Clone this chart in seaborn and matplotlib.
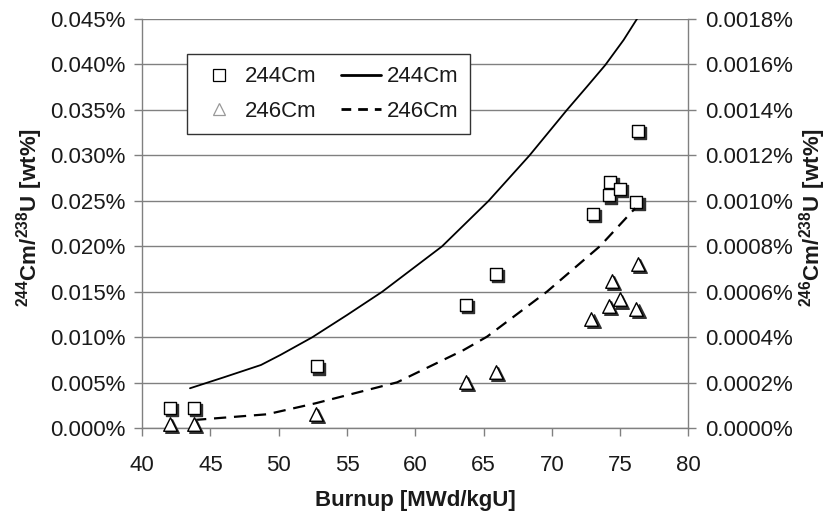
import numpy as np
import pandas as pd
import matplotlib
matplotlib.use("Agg")
import matplotlib.pyplot as plt
import seaborn as sns
from matplotlib.transforms import offset_copy
from matplotlib.lines import Line2D
from matplotlib.ticker import FuncFormatter, MultipleLocator

# ---------------- data ----------------
burnup_meas_244 = [42.0, 43.8, 52.8, 63.7, 65.9, 73.0, 74.2, 74.3, 75.0, 76.2, 76.3]
cm244_meas = [0.00226, 0.0022, 0.0068, 0.0136, 0.0170, 0.0236, 0.0256, 0.0271, 0.0263, 0.0249, 0.0327]

burnup_meas_246 = [42.0, 43.8, 52.7, 63.7, 65.9, 72.9, 74.2, 74.4, 75.0, 76.2, 76.3]
cm246_meas = [0.0000176, 0.0000176, 0.0000616, 0.000205, 0.000249, 0.000481,
              0.000538, 0.000649, 0.000567, 0.000524, 0.000723]

burnup_calc_244 = [43.5, 45.97, 48.7, 50.12, 52.45, 55.0, 57.57, 61.96, 65.37, 68.37,
                   71.11, 72.57, 73.92, 75.26, 76.28]
cm244_calc = [0.0044, 0.0056, 0.00696, 0.00806, 0.0100, 0.01245, 0.0150, 0.0200, 0.0250,
              0.0300, 0.0350, 0.03755, 0.03994, 0.04269, 0.0451]

burnup_calc_246 = [43.8, 49.15, 52.7, 58.67, 63.54, 65.26, 69.65, 73.55, 76.11]
cm246_calc = [0.0000365, 0.0000616, 0.00011, 0.000202, 0.000344, 0.000403, 0.000601, 0.000802, 0.000968]

x_ticks = [40, 45, 50, 55, 60, 65, 70, 75, 80]
legend_labels = ["244Cm", "246Cm", "244Cm", "246Cm"]

# ---------------- style ----------------
sns.set_theme(style="white")
plt.rcParams["font.family"] = ["Liberation Sans", "DejaVu Sans"]
plt.rcParams["mathtext.fontset"] = "custom"
plt.rcParams["mathtext.rm"] = "Liberation Sans"
plt.rcParams["mathtext.bf"] = "Liberation Sans:bold"
FS = 16
GRAY = "#808080"
TXT = "#1a1a1a"

fig = plt.figure(figsize=(8.34, 5.12), dpi=100)
ax = fig.add_axes([0.1705, 0.1635, 0.6548, 0.7994])
ax2 = ax.twinx()
ax2.patch.set_visible(False)

# calculated lines
sns.lineplot(x=burnup_calc_244, y=cm244_calc, ax=ax, color="black", lw=1.3,
             sort=False, estimator=None, zorder=3)
sns.lineplot(x=burnup_calc_246, y=cm246_calc, ax=ax2, color="black", lw=1.6,
             sort=False, estimator=None, zorder=3)
ax2.lines[-1].set_dashes([5.5, 3.5])

# measured points with drop shadow
sh1 = offset_copy(ax.transData, fig=fig, x=2.2, y=-2.2, units="dots")
sh2 = offset_copy(ax2.transData, fig=fig, x=2.2, y=-2.2, units="dots")
sns.scatterplot(x=burnup_meas_244, y=cm244_meas, ax=ax, marker="s", s=72,
                color="#303030", edgecolor="#303030", linewidth=1.0,
                transform=sh1, zorder=4, clip_on=False)
sns.scatterplot(x=burnup_meas_244, y=cm244_meas, ax=ax, marker="s", s=72,
                color="white", edgecolor="black", linewidth=1.0, zorder=5, clip_on=False)
sns.scatterplot(x=burnup_meas_246, y=cm246_meas, ax=ax2, marker="^", s=95,
                color="#303030", edgecolor="#303030", linewidth=1.0,
                transform=sh2, zorder=4, clip_on=False)
sns.scatterplot(x=burnup_meas_246, y=cm246_meas, ax=ax2, marker="^", s=95,
                color="white", edgecolor="black", linewidth=1.0, zorder=5, clip_on=False)

# axes limits / ticks
ax.set_xlim(40, 80)
ax.set_ylim(0, 0.045)
ax2.set_ylim(0, 0.0018)
ax.set_xticks(x_ticks)
ax.yaxis.set_major_locator(MultipleLocator(0.005))
ax2.yaxis.set_major_locator(MultipleLocator(0.0002))
ax.yaxis.set_major_formatter(FuncFormatter(lambda v, p: f"{v:.3f}%"))
ax2.yaxis.set_major_formatter(FuncFormatter(lambda v, p: f"{v:.4f}%"))

ax.grid(axis="y", color=GRAY, lw=1.0)
ax.grid(axis="x", visible=False)
ax2.grid(False)
ax.set_axisbelow(True)

for a in (ax, ax2):
    a.spines["top"].set_visible(False)
    for side in ("left", "bottom", "right"):
        a.spines[side].set_color(GRAY)
        a.spines[side].set_linewidth(1.0)
ax.spines["right"].set_visible(False)
ax2.spines["left"].set_visible(False)
ax2.spines["bottom"].set_visible(False)

ax.tick_params(axis="y", which="major", direction="out", length=6, width=1,
               color=GRAY, labelsize=FS, labelcolor=TXT, pad=6, left=True)
ax.tick_params(axis="x", which="major", direction="out", length=6, width=1,
               color=GRAY, labelsize=FS, labelcolor=TXT, pad=13, bottom=True)
ax2.tick_params(axis="y", which="major", direction="out", length=6, width=1,
                color=GRAY, labelsize=FS, labelcolor=TXT, pad=6, right=True)

ax.set_xlabel("Burnup [MWd/kgU]", fontsize=FS, fontweight="bold", color=TXT)
ax.xaxis.set_label_coords(0.5, -0.150)
ax.set_ylabel(r"$^{\mathbf{244}}\mathbf{Cm/}^{\mathbf{238}}\mathbf{U\ [wt\%]}$",
              fontsize=FS, color=TXT)
ax.yaxis.set_label_coords(-0.178, 0.516)
ax2.set_ylabel(r"$^{\mathbf{246}}\mathbf{Cm/}^{\mathbf{238}}\mathbf{U\ [wt\%]}$",
               fontsize=FS, color=TXT, rotation=90)
ax2.yaxis.set_label_coords(1.199, 0.516)

# legend
handles = [
    Line2D([], [], ls="none", marker="s", ms=8, mfc="white", mec="black", mew=0.9),
    Line2D([], [], ls="none", marker="^", ms=9, mfc="white", mec="#999999", mew=0.9),
    Line2D([], [], color="black", lw=2.0),
    Line2D([], [], color="black", lw=2.0, dashes=[3.5, 2.5]),
]
leg = ax2.legend(handles, legend_labels, ncol=2, loc="upper left",
                 bbox_to_anchor=(0.0823, 0.9138), borderaxespad=0,
                 fontsize=FS, frameon=True, fancybox=False, framealpha=1,
                 edgecolor="#333333", handlelength=1.8, handletextpad=0.25,
                 columnspacing=1.1, labelspacing=0.6, borderpad=0.55)
leg.get_frame().set_linewidth(1.0)
for t in leg.get_texts():
    t.set_color(TXT)

fig.savefig("out.png", dpi=100)
